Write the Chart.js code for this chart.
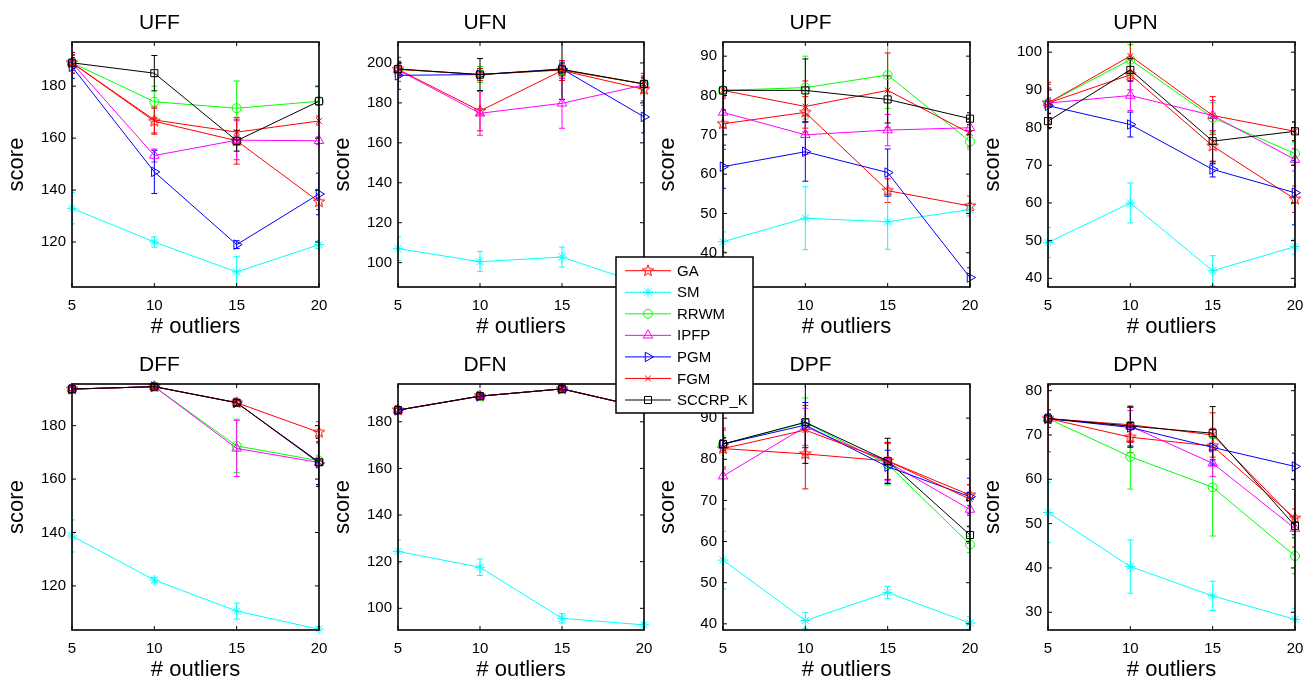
<!DOCTYPE html>
<html>
<head>
<meta charset="utf-8">
<script src="https://cdn.jsdelivr.net/npm/chart.js@4.4.1/dist/chart.umd.min.js"></script>
<style>
  html, body { margin: 0; padding: 0; background: #fff; }
  body { width: 1312px; height: 685px; position: relative; overflow: hidden; }
  canvas { position: absolute; }
  #legend { z-index: 10; }
</style>
</head>
<body>
<canvas id="legend" width="142" height="162" style="left:614px; top:255px;"></canvas>
<script>
const methods = ["GA", "SM", "RRWM", "IPFP", "PGM", "FGM", "SCCRP_K"];
const outliers = [5, 10, 15, 20];
const panelNames = ["UFF", "UFN", "UPF", "UPN", "DFF", "DFN", "DPF", "DPN"];

// mean score per method (rows follow `methods`)
const uffMean = [
  [189, 166.5, 159, 135.5],
  [133, 120, 108.5, 119],
  [189, 174, 171.5, 174.2],
  [189, 153.3, 159.2, 159],
  [187.5, 147, 119, 138.5],
  [189, 167, 162.3, 166.6],
  [189, 185, 159, 174.2],
];
const uffErr = [
  [4, 5, 9, 3], [6, 2, 6, 1.5], [3, 6, 10.5, 5.5], [3, 2.5, 7.5, 1.5],
  [4.5, 8.3, 1.5, 8], [4, 5, 5, 1.5], [2, 6.8, 4, 1.5],
];
const ufnMean = [
  [196.8, 176, 196.2, 186.8],
  [107, 100.5, 102.8, 89],
  [196.8, 194.2, 196.5, 189.5],
  [196.5, 174.8, 179.8, 189],
  [193.8, 194.2, 197, 173],
  [196.8, 194.2, 196.5, 189.5],
  [197, 194.2, 196.8, 189.5],
];
const ufnErr = [
  [6, 10, 5, 8], [6, 5, 5, 1.7], [3, 4, 4, 3], [3, 11, 12.5, 4],
  [7, 3, 3, 8], [4, 3, 3, 4], [3, 8, 15, 3],
];
const upfMean = [
  [72.8, 75.7, 55.8, 51.9],
  [42.8, 48.8, 47.9, 51],
  [81.3, 82, 85.2, 68.3],
  [75.7, 70, 71.2, 71.8],
  [61.9, 65.7, 60.4, 33.7],
  [81.3, 77.2, 81.3, 70.4],
  [81.3, 81.3, 79, 74.1],
];
const upfErr = [
  [6.5, 4, 3, 2.5], [2.5, 8, 7, 1.5], [5, 8, 8.5, 2], [4, 5, 4, 1.5],
  [5.5, 7.5, 6, 2.5], [5, 6.5, 9.5, 3.5], [5, 8, 6, 1.5],
];
const upnMean = [
  [86.5, 94, 75.1, 61],
  [49.5, 60, 42, 48.4],
  [86.5, 98, 82.6, 73.1],
  [86.5, 88.5, 83.2, 71.5],
  [85.8, 80.8, 68.9, 62.7],
  [86.5, 99, 83.2, 79],
  [81.7, 95.3, 76.4, 79],
];
const upnErr = [
  [5, 4, 4, 3.5], [4, 5.3, 4, 2], [4, 4, 4, 3], [4, 4, 4, 3],
  [2, 3.3, 2, 8.5], [5.5, 4, 5, 2.5], [2, 3, 6, 2.5],
];
const dffMean = [
  [193.7, 194.6, 188.6, 177.5],
  [138.7, 122.2, 110.6, 103.8],
  [193.7, 194.6, 172.4, 166.9],
  [193.7, 194.6, 171.5, 166.2],
  [193.7, 194.6, 188.6, 166],
  [193.7, 194.6, 188.6, 166.3],
  [193.7, 194.6, 188.6, 166.3],
];
const dffErr = [
  [1, 1, 1, 4], [6, 1, 3, 1], [1, 1, 10, 2], [1, 1, 10.5, 2],
  [1, 1, 1, 8], [1, 1, 1, 9], [1, 1, 1, 9],
];
const dfnMean = [
  [185, 191, 194.1, 186],
  [124.4, 117.6, 95.7, 92.9],
  [185, 191, 194.1, 186],
  [185, 191, 194.1, 186],
  [185, 191, 194.1, 186],
  [185, 191, 194.1, 186],
  [185, 191, 194.1, 186],
];
const dfnErr = [
  [1, 1, 1, 1], [5, 3.5, 2, 1], [1, 1, 1, 1], [1, 1, 1, 1],
  [1, 1, 1, 1], [1, 1, 1, 1], [1, 1, 1, 1],
];
const dpfMean = [
  [82.6, 81.3, 79.6, 71.3],
  [55.5, 40.8, 47.6, 40.2],
  [83.7, 88.9, 78.8, 59.3],
  [75.9, 87.9, 79.3, 67.8],
  [83.7, 88.3, 78.2, 70.9],
  [82.6, 87.1, 79.6, 70.3],
  [83.7, 89, 79.6, 61.6],
];
const dpfErr = [
  [5, 8.5, 4.5, 2.5], [7, 2, 1.5, 1.5], [2, 6, 5, 2], [8, 4.5, 4.5, 4],
  [1.5, 5.5, 4, 4.5], [4.5, 6, 4.5, 3.5], [1.5, 10, 5.5, 2],
];
const dpnMean = [
  [73.7, 69.5, 67.5, 51.2],
  [52.5, 40.3, 33.7, 28.4],
  [73.7, 65.1, 58.2, 42.7],
  [73.7, 72, 63.6, 48.9],
  [73.7, 71.7, 67.2, 62.9],
  [73.7, 72.3, 70, 50.8],
  [73.7, 72, 70.4, 49.5],
];
const dpnErr = [
  [7.5, 3.5, 4, 6.5], [6.8, 6, 3.3, 2.5], [1, 7.3, 11, 4], [2, 3.5, 3, 2],
  [1, 4.5, 4, 3], [2, 4, 5, 2.5], [1, 4.5, 6, 2],
];

const yLimits = [
  [102.7, 197], [87.8, 210.5], [31.3, 93.6], [37.7, 102.7],
  [103.5, 195.6], [90.7, 196.2], [38.5, 98.3], [26, 81.5],
];
const yTicks = [
  [120, 140, 160, 180],
  [100, 120, 140, 160, 180, 200],
  [40, 50, 60, 70, 80, 90],
  [40, 50, 60, 70, 80, 90, 100],
  [120, 140, 160, 180],
  [100, 120, 140, 160, 180],
  [40, 50, 60, 70, 80, 90],
  [30, 40, 50, 60, 70, 80],
];

const panelMeans = [uffMean, ufnMean, upfMean, upnMean, dffMean, dfnMean, dpfMean, dpnMean];
const panelErrs = [uffErr, ufnErr, upfErr, upnErr, dffErr, dfnErr, dpfErr, dpnErr];

Chart.defaults.font.family = '"Liberation Sans", Arial, Helvetica, sans-serif';
Chart.defaults.color = "#000";

// outlined five-point star used for GA markers
function makePentagram(color, r) {
  const s = Math.ceil(r * 2 + 4);
  const c = document.createElement("canvas");
  c.width = s;
  c.height = s;
  const g = c.getContext("2d");
  g.strokeStyle = color;
  g.lineWidth = 1;
  g.beginPath();
  for (let i = 0; i < 10; i++) {
    const a = -Math.PI / 2 + (i * Math.PI) / 5;
    const rr = i % 2 === 0 ? r : r * 0.42;
    const px = s / 2 + rr * Math.cos(a);
    const py = s / 2 + rr * Math.sin(a);
    if (i === 0) g.moveTo(px, py);
    else g.lineTo(px, py);
  }
  g.closePath();
  g.stroke();
  return c;
}

const styles = [
  { color: "#ff0000", pointStyle: makePentagram("#ff0000", 6), radius: 6, rotation: 0 },
  { color: "#00ffff", pointStyle: "star", radius: 5, rotation: 0 },
  { color: "#00ff00", pointStyle: "circle", radius: 4.5, rotation: 0 },
  { color: "#ff00ff", pointStyle: "triangle", radius: 5.5, rotation: 0 },
  { color: "#0000ff", pointStyle: "triangle", radius: 5.5, rotation: 90 },
  { color: "#ff0000", pointStyle: "crossRot", radius: 4, rotation: 0 },
  { color: "#000000", pointStyle: "rect", radius: 5, rotation: 0 },
];

// error bars under the lines, plus the boxed axes with inward ticks
const boxAndErrorBars = {
  id: "boxAndErrorBars",
  beforeDatasetsDraw(chart) {
    const { ctx, chartArea: a, scales } = chart;
    ctx.save();
    ctx.beginPath();
    ctx.rect(a.left, a.top, a.right - a.left, a.bottom - a.top);
    ctx.clip();
    ctx.lineWidth = 1;
    chart.data.datasets.forEach((ds) => {
      ctx.strokeStyle = ds.borderColor;
      ds.errorBars.forEach((e, i) => {
        const px = scales.x.getPixelForValue(ds.data[i].x);
        const top = scales.y.getPixelForValue(ds.data[i].y + e);
        const bot = scales.y.getPixelForValue(ds.data[i].y - e);
        ctx.beginPath();
        ctx.moveTo(px, top);
        ctx.lineTo(px, bot);
        ctx.moveTo(px - 3, top);
        ctx.lineTo(px + 3, top);
        ctx.moveTo(px - 3, bot);
        ctx.lineTo(px + 3, bot);
        ctx.stroke();
      });
    });
    ctx.restore();
  },
  afterDraw(chart) {
    const { ctx, chartArea: a, scales } = chart;
    ctx.save();
    ctx.strokeStyle = "#000";
    ctx.lineWidth = 1;
    ctx.beginPath();
    scales.x.ticks.forEach((t) => {
      const px = scales.x.getPixelForValue(t.value);
      ctx.moveTo(px, a.bottom);
      ctx.lineTo(px, a.bottom - 4);
      ctx.moveTo(px, a.top);
      ctx.lineTo(px, a.top + 4);
    });
    scales.y.ticks.forEach((t) => {
      const py = scales.y.getPixelForValue(t.value);
      ctx.moveTo(a.left, py);
      ctx.lineTo(a.left + 4, py);
      ctx.moveTo(a.right, py);
      ctx.lineTo(a.right - 4, py);
    });
    ctx.stroke();
    ctx.lineWidth = 1.6;
    ctx.strokeRect(a.left, a.top, a.right - a.left, a.bottom - a.top);
    ctx.restore();
  },
};

const plotLefts = [72, 398, 723, 1048];
const plotWidths = [247, 246, 247, 247];
const rowTops = [0, 342];
const rowHeights = [342, 343];

panelNames.forEach((name, p) => {
  const col = p % 4;
  const row = Math.floor(p / 4);
  const canvas = document.createElement("canvas");
  canvas.width = 72 + plotWidths[col] + 14;
  canvas.height = rowHeights[row];
  canvas.style.left = plotLefts[col] - 72 + "px";
  canvas.style.top = rowTops[row] + "px";
  document.body.appendChild(canvas);

  const means = panelMeans[p];
  const errs = panelErrs[p];
  const datasets = methods.map((m, k) => ({
    label: m,
    data: outliers.map((x, i) => ({ x, y: means[k][i] })),
    errorBars: errs[k],
    borderColor: styles[k].color,
    backgroundColor: styles[k].color,
    borderWidth: 1,
    pointStyle: styles[k].pointStyle,
    pointRadius: styles[k].radius,
    pointRotation: styles[k].rotation,
    pointBorderColor: styles[k].color,
    pointBackgroundColor: "rgba(0,0,0,0)",
    pointBorderWidth: 1,
    tension: 0,
    clip: false,
    order: methods.length - k,
  }));

  new Chart(canvas, {
    type: "line",
    data: { datasets },
    options: {
      responsive: false,
      animation: false,
      devicePixelRatio: 1,
      events: [],
      layout: { padding: { left: 0, right: 14, top: 0, bottom: 0 } },
      plugins: {
        legend: { display: false },
        tooltip: { enabled: false },
        title: {
          display: true,
          text: name,
          color: "#000",
          font: { size: 21, weight: "normal" },
          padding: { top: 11, bottom: 5.8 },
        },
      },
      scales: {
        x: {
          type: "linear",
          min: outliers[0],
          max: outliers[outliers.length - 1],
          grid: { display: false, drawTicks: false },
          border: { display: false },
          ticks: { color: "#000", font: { size: 15 }, padding: 10 },
          afterBuildTicks: (s) => {
            s.ticks = outliers.map((v) => ({ value: v }));
          },
          afterFit: (s) => {
            // fixed band below the plot; edge labels may overhang
            s.height = 55;
            s.paddingLeft = 0;
            s.paddingRight = 0;
          },
          title: {
            display: true,
            text: "# outliers",
            color: "#000",
            font: { size: 22 },
            padding: { top: 0, bottom: 2 },
          },
        },
        y: {
          type: "linear",
          min: yLimits[p][0],
          max: yLimits[p][1],
          grid: { display: false, drawTicks: false },
          border: { display: false },
          ticks: { color: "#000", font: { size: 15 }, padding: 6 },
          afterBuildTicks: (s) => {
            s.ticks = yTicks[p].map((v) => ({ value: v }));
          },
          afterFit: (s) => {
            s.width = 72;
            s.paddingTop = 0;
            s.paddingBottom = 0;
          },
          title: {
            display: true,
            text: "score",
            color: "#000",
            font: { size: 22 },
            padding: { top: 4, bottom: 0 },
          },
        },
      },
    },
    plugins: [boxAndErrorBars],
  });
});

// shared legend box
(function drawLegend() {
  const c = document.getElementById("legend");
  const g = c.getContext("2d");
  g.fillStyle = "#fff";
  g.fillRect(2, 2, 137, 156);
  g.strokeStyle = "#000";
  g.lineWidth = 1.5;
  g.strokeRect(2, 2, 137, 156);
  g.font = '15px "Liberation Sans", Arial, sans-serif';
  g.textBaseline = "middle";
  methods.forEach((m, k) => {
    const cy = 15.7 + k * 21.55;
    const st = styles[k];
    g.strokeStyle = st.color;
    g.lineWidth = 1;
    g.beginPath();
    g.moveTo(11, cy);
    g.lineTo(57, cy);
    g.stroke();
    g.fillStyle = "rgba(0,0,0,0)";
    if (Chart.helpers && Chart.helpers.drawPoint) {
      Chart.helpers.drawPoint(g, {
        pointStyle: st.pointStyle,
        rotation: st.rotation,
        radius: st.radius,
        borderWidth: 1,
      }, 34, cy);
    }
    g.fillStyle = "#000";
    g.fillText(m, 63, cy + 1);
  });
})();
</script>
</body>
</html>
